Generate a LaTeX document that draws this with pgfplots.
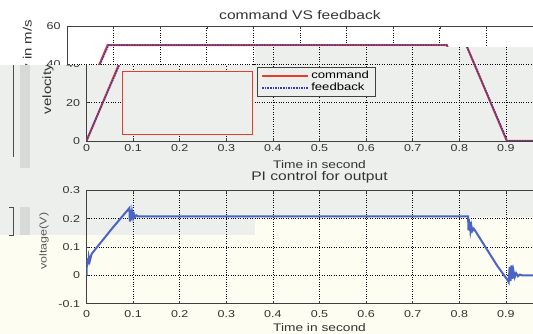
\documentclass[border=0pt]{standalone}
\usepackage{pgfplots}
\pgfplotsset{compat=1.18}
\usepackage{pgfplotstable}
\usepackage{fontspec}
\setmainfont{Liberation Sans}[FakeStretch=1.25]
\definecolor{cmdred}{HTML}{E2402E}
\definecolor{fbblue}{HTML}{3C3CA8}
\definecolor{vblue}{HTML}{4A64C4}
\definecolor{bggray}{HTML}{EDEFED}
\definecolor{bgyel}{HTML}{FDFDF1}
\definecolor{bargray}{HTML}{D8DAD8}

\pgfplotstableread{
t v
0 0
0.087 50
0.815 50
0.902 0
1 0
}\cmdtab
\pgfplotstableread{
t v
0 0
0.003 2
0.089 50
0.815 50
0.903 0
1 0
}\fbtab
\pgfplotstableread{
t v
0 0
0.001 0.055
0.002 0.035
0.003 0.06
0.004 0.04
0.005 0.065
0.007 0.05
0.011 0.076
0.055 0.166
0.092 0.238
0.093 0.19
0.094 0.232
0.095 0.195
0.096 0.228
0.097 0.2
0.098 0.222
0.100 0.203
0.102 0.216
0.104 0.206
0.107 0.212
0.110 0.209
0.819 0.209
0.8195 0.16
0.8205 0.2
0.8215 0.158
0.8225 0.19
0.824 0.156
0.826 0.175
0.828 0.157
0.831 0.165
0.834 0.158
0.881 0.035
0.904 -0.018
0.906 -0.024
0.908 0.03
0.910 -0.02
0.912 0.035
0.914 -0.012
0.916 0.018
0.919 -0.006
0.922 0.008
0.926 -0.003
0.930 0.003
0.935 0
1 0
}\volttab

\pgfplotsset{
  mlab/.style={
    scale only axis, width=466pt, xmin=0, xmax=1,
    xtick={0,0.1,0.2,0.3,0.4,0.5,0.6,0.7,0.8,0.9,1},
    xticklabels={0,0.1,0.2,0.3,0.4,0.5,0.6,0.7,0.8,0.9,{}},
    grid=major, major grid style={black, dotted, line width=0.75pt},
    axis line style={black!75}, tick style={black!75, line width=0.6pt},
    tick align=inside, major tick length=3pt,
    ticklabel style={font=\fontsize{10}{12}\selectfont, text=black!80},
    yticklabel style={xshift=-3pt},
    xlabel={Time in second},
    label style={font=\fontsize{11}{13}\selectfont, text=black!80},
    xlabel style={at={(axis description cs:0.5,0)}, anchor=center, yshift=-23.5pt},
    title style={font=\fontsize{12.5}{15}\selectfont, text=black!80, at={(axis description cs:0.5,1)}, anchor=center},
  },
  topax/.style={
    mlab, height=115pt, ymin=0, ymax=60,
    ytick={0,20,40,60}, yticklabels={0,20,40,60},
    ylabel={velocity in m/s},
    ylabel style={at={(axis description cs:-0.0826,0.643)}, anchor=center, font=\fontsize{12}{14}\selectfont},
    title={command VS feedback}, title style={yshift=5pt},
    legend style={at={(axis description cs:0.366,0.643)}, anchor=north west,
      draw=black!75, fill=bggray, font=\fontsize{10.5}{12}\selectfont,
      inner xsep=4pt, inner ysep=2pt, row sep=-1pt, cells={anchor=west}},
    legend image code/.code={\draw[##1] (0pt,0pt) -- (46pt,0pt);},
  },
}

\newcommand\topplots{%
  \addplot[cmdred, line width=2pt] table[x=t,y=v] {\cmdtab};
  \addplot[fbblue, line width=1.6pt, densely dotted] table[x=t,y=v] {\fbtab};
  \legend{command, feedback}
  \draw[cmdred, line width=0.8pt, fill=bggray] (axis cs:0.076,3.7) rectangle (axis cs:0.357,36.5);
}

\begin{document}
\begin{tikzpicture}
% background
\fill[white] (0pt,0pt) rectangle (533pt,334pt);
\fill[bggray] (0pt,269pt) rectangle (255pt,99pt);
\fill[bggray] (255pt,287pt) rectangle (533pt,117pt);
\fill[bgyel] (0pt,0pt) rectangle (255pt,99pt);
\fill[bgyel] (255pt,0pt) rectangle (533pt,117pt);

\begin{axis}[topax, at={(86.5pt,193pt)}, anchor=south west]
\topplots
\end{axis}

\begin{axis}[mlab, at={(86.5pt,30.3pt)}, anchor=south west,
    height=113.2pt, ymin=-0.1, ymax=0.3,
    ytick={-0.1,0,0.1,0.2,0.3}, yticklabels={-0.1,0,0.1,0.2,0.3},
    xticklabel style={yshift=-3pt},
    ylabel={voltage(V)},
    ylabel style={at={(axis description cs:-0.0912,0.554)}, anchor=center, font=\fontsize{10}{12}\selectfont, text=black!65},
    title={PI control for output}, title style={yshift=7pt}]
\addplot[vblue, line width=2pt] table[x=t,y=v] {\volttab};
\end{axis}

% shifted overlay of the upper part
\begin{scope}
\clip (0pt,334pt) -- (533pt,334pt) -- (533pt,287pt) -- (255pt,287pt) -- (255pt,269pt) -- (0pt,269pt) -- cycle;
\fill[white] (0pt,0pt) rectangle (533pt,334pt);
\begin{axis}[topax, at={(67pt,193pt)}, anchor=south west]
\topplots
\end{axis}
\end{scope}

% left-edge artefacts
\fill[bargray] (20pt,269pt) rectangle (30pt,166pt);
\fill[bargray] (20pt,127pt) rectangle (30pt,99pt);
\draw[black!70, line width=0.8pt] (13pt,269pt) -- (13pt,177pt);
\draw[black!70, line width=0.8pt] (9pt,127pt) -- (13pt,127pt) -- (13pt,99pt) -- (9pt,99pt);

\pgfresetboundingbox
\useasboundingbox (0pt,0pt) rectangle (533pt,334pt);
\end{tikzpicture}
\end{document}
